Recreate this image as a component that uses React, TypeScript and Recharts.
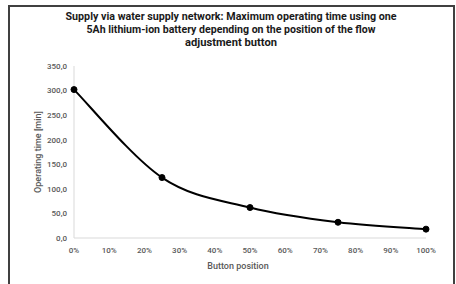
import React from 'react';
import { LineChart, Line, XAxis, YAxis } from 'recharts';

const positions = [0, 25, 50, 75, 100];
const operatingTime = [302, 123, 62, 32, 18];
const xTicks = [0, 10, 20, 30, 40, 50, 60, 70, 80, 90, 100];
const yTicks = [0, 50, 100, 150, 200, 250, 300, 350];
const titleLines = [
  'Supply via water supply network: Maximum operating time using one',
  '5Ah lithium-ion battery depending on the position of the flow',
  'adjustment button',
];
const titleWidths = [331, 289, 92];
const xLabel = 'Button position';
const yLabel = 'Operating time [min]';

const data = positions.map((p, i) => ({ pos: p, time: operatingTime[i] }));

const FONT = 'Roboto, "Noto Sans", sans-serif';
const TICK_STYLE = { fontSize: 8, fill: '#595959', fontFamily: FONT, fontWeight: 500 };

// Excel-like smoothed line (Catmull-Rom style Bezier segments)
function smoothCurve(context: any) {
  let pts: [number, number][] = [];
  return {
    areaStart() {},
    areaEnd() {},
    lineStart() {
      pts = [];
    },
    lineEnd() {
      const n = pts.length;
      if (!n) return;
      context.moveTo(pts[0][0], pts[0][1]);
      for (let i = 0; i < n - 1; i++) {
        const p0 = pts[Math.max(i - 1, 0)];
        const p1 = pts[i];
        const p2 = pts[i + 1];
        const p3 = pts[Math.min(i + 2, n - 1)];
        context.bezierCurveTo(
          p1[0] + (p2[0] - p0[0]) / 6,
          p1[1] + (p2[1] - p0[1]) / 6,
          p2[0] - (p3[0] - p1[0]) / 6,
          p2[1] - (p3[1] - p1[1]) / 6,
          p2[0],
          p2[1]
        );
      }
    },
    point(x: number, y: number) {
      pts.push([x, y]);
    },
  };
}

export default function App() {
  return (
    <div style={{ position: 'fixed', left: 0, top: 0, width: 456, height: 284, overflow: 'hidden', background: '#fff' }}>
      <svg width={456} height={60} style={{ position: 'absolute', left: 0, top: 0 }}>
        {titleLines.map((t, i) => (
          <text
            key={i}
            x={231}
            y={20 + i * 13}
            textAnchor="middle"
            fontFamily={FONT}
            fontWeight={700}
            fontSize={11}
            fill="#1a1a1a"
            textLength={titleWidths[i]}
            lengthAdjust="spacingAndGlyphs"
          >
            {t}
          </text>
        ))}
      </svg>
      <div style={{ position: 'absolute', left: 0, top: 0 }}>
        <LineChart width={456} height={284} data={data} margin={{ top: 66, right: 30, bottom: 0, left: 0 }}>
          <XAxis
            dataKey="pos"
            type="number"
            domain={[0, 100]}
            ticks={xTicks}
            tickFormatter={(v: number) => `${v}%`}
            height={46}
            axisLine={{ stroke: '#d9d9d9' }}
            tickLine={false}
            tickSize={0}
            tickMargin={9}
            tick={TICK_STYLE}
            interval={0}
            label={{
              content: (props: any) => {
                const vb = props.viewBox;
                return (
                  <text x={vb.x + vb.width / 2 - 12} y={vb.y + 31} textAnchor="middle" fontFamily={FONT} fontWeight={500} fontSize={9} fill="#595959">
                    {xLabel}
                  </text>
                );
              },
            }}
          />
          <YAxis
            type="number"
            domain={[0, 350]}
            ticks={yTicks}
            width={74}
            tickFormatter={(v: number) => v.toFixed(1).replace('.', ',')}
            axisLine={{ stroke: '#d9d9d9' }}
            tickLine={false}
            tickSize={0}
            tickMargin={7}
            tick={TICK_STYLE}
            interval={0}
            label={{
              content: (props: any) => {
                const vb = props.viewBox;
                const cx = vb.x + 38;
                const cy = vb.y + vb.height / 2;
                return (
                  <text x={cx} y={cy} transform={`rotate(-90 ${cx} ${cy})`} textAnchor="middle" dominantBaseline="central" fontFamily={FONT} fontWeight={500} fontSize={9} fill="#595959">
                    {yLabel}
                  </text>
                );
              },
            }}
          />
          <Line
            type={smoothCurve as any}
            dataKey="time"
            stroke="#000"
            strokeWidth={2}
            dot={{ r: 3, fill: '#000', stroke: '#000', strokeWidth: 1 }}
            isAnimationActive={false}
          />
        </LineChart>
      </div>
      <div style={{ position: 'absolute', left: 8, top: 5, width: 447, height: 300, boxSizing: 'border-box', border: '2px solid #404040', pointerEvents: 'none' }} />
    </div>
  );
}
